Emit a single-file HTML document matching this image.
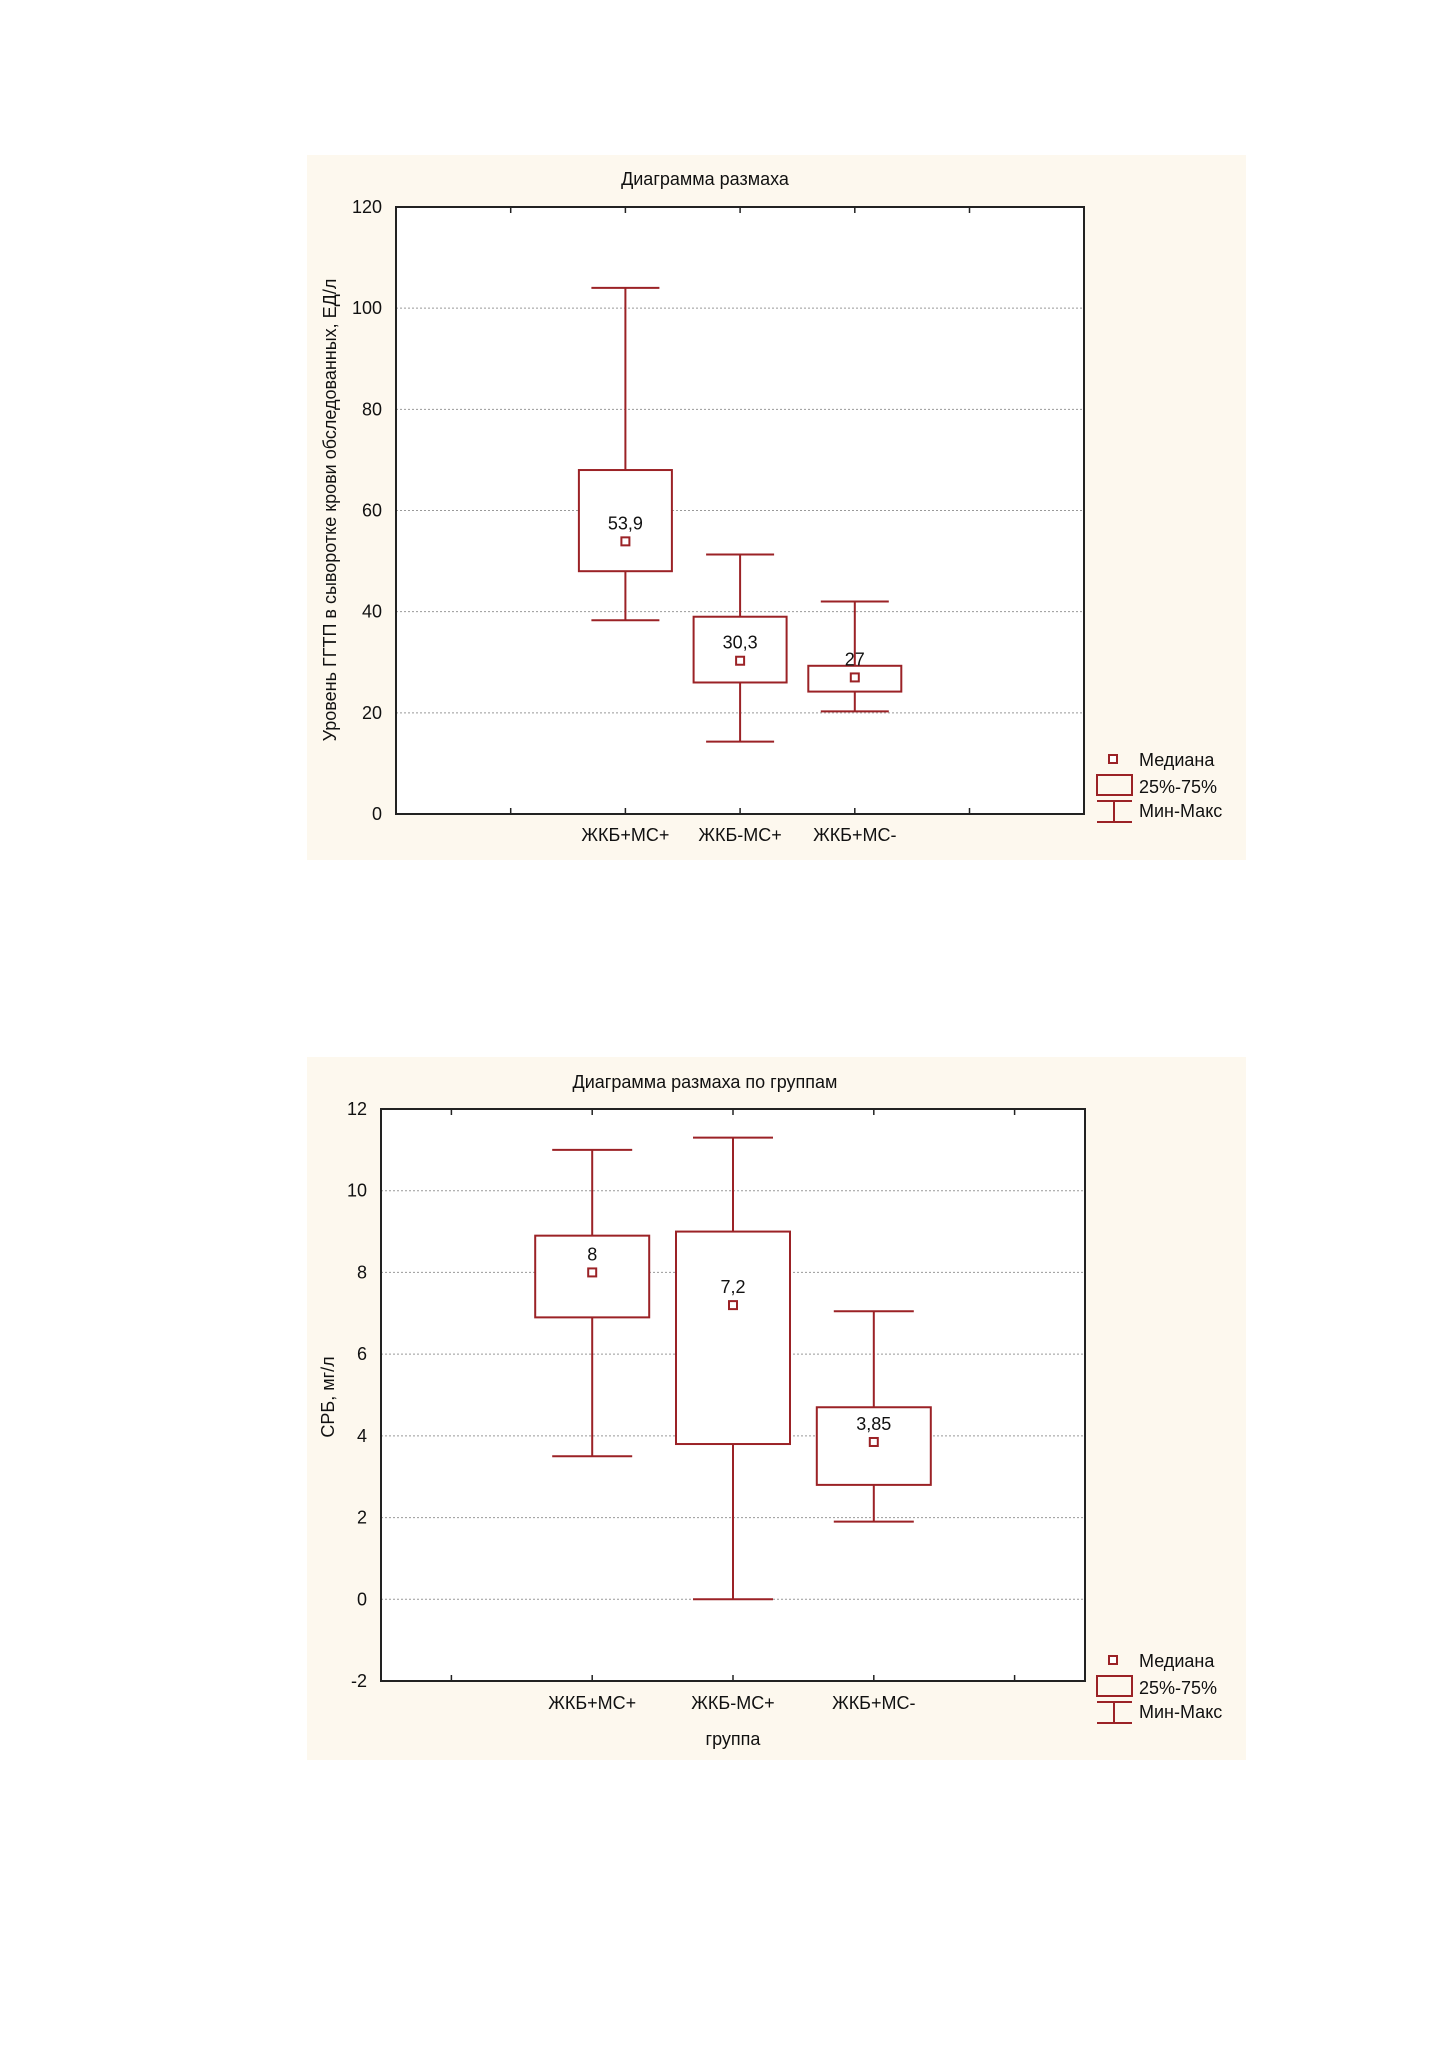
<!DOCTYPE html>
<html><head><meta charset="utf-8"><style>
body{margin:0;background:#fff;width:1448px;height:2050px;overflow:hidden}
svg{position:absolute;left:0;top:0}
text{font-family:"Liberation Sans",sans-serif;fill:#111}
</style></head><body>
<svg id="s" width="1448" height="2050"></svg>
<script>
// Chart 1 data
const cats1 = ["ЖКБ+МС+","ЖКБ-МС+","ЖКБ+МС-"];
const max1 = [104, 51.3, 42];
const q3_1 = [68, 39, 29.3];
const med1 = [53.9, 30.3, 27];
const q1_1 = [48, 26, 24.2];
const min1 = [38.3, 14.3, 20.3];
const medLabels1 = ["53,9","30,3","27"];
const yTicks1 = [0,20,40,60,80,100,120];
// Chart 2 data
const cats2 = ["ЖКБ+МС+","ЖКБ-МС+","ЖКБ+МС-"];
const max2 = [11, 11.3, 7.05];
const q3_2 = [8.9, 9, 4.7];
const med2 = [8, 7.2, 3.85];
const q1_2 = [6.9, 3.8, 2.8];
const min2 = [3.5, 0, 1.9];
const medLabels2 = ["8","7,2","3,85"];
const yTicks2 = [-2,0,2,4,6,8,10,12];

const NS="http://www.w3.org/2000/svg";
const svg=document.getElementById('s');
const RED="#9b2226";
function el(tag,attrs,parent,txt){const e=document.createElementNS(NS,tag);for(const k in attrs)e.setAttribute(k,attrs[k]);if(txt!==undefined)e.textContent=txt;(parent||svg).appendChild(e);return e;}

function chart(cfg){
  const g=el('g',{});
  
  
  const bg=el('rect',{x:cfg.px,y:cfg.py,width:cfg.pw,height:cfg.ph,fill:'#fdf8ee'},g);
  
  
  const L=cfg.L,R=cfg.R,T=cfg.T,B=cfg.B;
  const y=v=>B-(v-cfg.ymin)/(cfg.ymax-cfg.ymin)*(B-T);
  const x=i=>L+(cfg.slot0+i)*cfg.slotW;
  el('rect',{x:L,y:T,width:R-L,height:B-T,fill:'#fff'},g);
  cfg.ticks.forEach(v=>{
    const gl=el('line',{x1:L,x2:R,y1:y(v),y2:y(v),stroke:'#999','stroke-dasharray':'2,2','stroke-width':1},g);
    
    
    const t=el('text',{x:L-14,y:y(v)+6,'text-anchor':'end','font-size':18},g,String(v));
    
    
  });
  cfg.xt.forEach(k=>{
    const xx=L+k*cfg.slotW;
    el('line',{x1:xx,x2:xx,y1:T,y2:T+6,stroke:'#222','stroke-width':1.5},g);
    el('line',{x1:xx,x2:xx,y1:B,y2:B-6,stroke:'#222','stroke-width':1.5},g);
  });
  const fr=el('rect',{x:L,y:T,width:R-L,height:B-T,fill:'none',stroke:'#222','stroke-width':2},g);
  
  
  const tt=el('text',{x:cfg.titleX,y:cfg.titleY,'text-anchor':'middle','font-size':18},g,cfg.title);
  
  
  const yt=el('text',{x:0,y:0,'text-anchor':'middle','font-size':18,transform:`translate(${cfg.ytX},${cfg.ytY}) rotate(-90)`},g,cfg.ytitle);
  
  
  if(cfg.xtitle){
    const xt=el('text',{x:x(1),y:cfg.xtY,'text-anchor':'middle','font-size':18},g,cfg.xtitle);
    
    
  }
  cfg.cats.forEach((c,i)=>{
    const cx=x(i);
    const bg2=el('g',{},g);
    
    
    const st={stroke:RED,'stroke-width':2,fill:'none'};
    el('line',Object.assign({x1:cx,x2:cx,y1:y(cfg.max[i]),y2:y(cfg.q3[i])},st),bg2);
    el('line',Object.assign({x1:cx,x2:cx,y1:y(cfg.q1[i]),y2:y(cfg.min[i])},st),bg2);
    el('line',Object.assign({x1:cx-cfg.cap/2,x2:cx+cfg.cap/2,y1:y(cfg.max[i]),y2:y(cfg.max[i])},st),bg2);
    el('line',Object.assign({x1:cx-cfg.cap/2,x2:cx+cfg.cap/2,y1:y(cfg.min[i]),y2:y(cfg.min[i])},st),bg2);
    el('rect',Object.assign({x:cx-cfg.bw/2,y:y(cfg.q3[i]),width:cfg.bw,height:y(cfg.q1[i])-y(cfg.q3[i]),fill:'#fff'},{stroke:RED,'stroke-width':2}),bg2);
    el('rect',{x:cx-4,y:y(cfg.med[i])-4,width:8,height:8,fill:'#fff',stroke:RED,'stroke-width':2},bg2);
    el('text',{x:cx,y:y(cfg.med[i])-12,'text-anchor':'middle','font-size':18},bg2,cfg.labels[i]);
    const xl=el('text',{x:cx,y:cfg.xlY,'text-anchor':'middle','font-size':18},g,c);
    
    
  });
  const lg=el('g',{transform:`translate(0,${cfg.legDy})`},g);
  
  
  el('rect',{x:1109,y:755,width:8,height:8,fill:'#fff',stroke:RED,'stroke-width':2},lg);
  el('text',{x:1139,y:766,'font-size':18},lg,'Медиана');
  el('rect',{x:1097,y:775,width:35,height:20,fill:'none',stroke:RED,'stroke-width':2},lg);
  el('text',{x:1139,y:793,'font-size':18},lg,'25%-75%');
  el('line',{x1:1097,x2:1132,y1:801,y2:801,stroke:RED,'stroke-width':2},lg);
  el('line',{x1:1097,x2:1132,y1:822,y2:822,stroke:RED,'stroke-width':2},lg);
  el('line',{x1:1114,x2:1114,y1:801,y2:822,stroke:RED,'stroke-width':2},lg);
  el('text',{x:1139,y:817,'font-size':18},lg,'Мин-Макс');
}

chart({name:'chart-ggtp',px:307,py:155,pw:939,ph:705,L:396,R:1084,T:207,B:814,ymin:0,ymax:120,
  slotW:114.7,slot0:2,xt:[1,2,3,4,5],ticks:yTicks1,cats:cats1,max:max1,q3:q3_1,med:med1,q1:q1_1,min:min1,labels:medLabels1,
  bw:93,cap:68,title:'Диаграмма размаха',titleX:705,titleY:185,ytitle:'Уровень ГГТП в сыворотке крови обследованных, ЕД/л',ytX:336,ytY:510,xlY:841,legDy:0});
chart({name:'chart-crp',px:307,py:1057,pw:939,ph:703,L:381,R:1085,T:1109,B:1681,ymin:-2,ymax:12,
  slotW:140.8,slot0:1.5,xt:[0.5,1.5,2.5,3.5,4.5],ticks:yTicks2,cats:cats2,max:max2,q3:q3_2,med:med2,q1:q1_2,min:min2,labels:medLabels2,
  bw:114,cap:80,title:'Диаграмма размаха по группам',titleX:705,titleY:1088,ytitle:'СРБ, мг/л',ytX:334,ytY:1397,xlY:1709,xtitle:'группа',xtY:1745,legDy:901});
</script>
</body></html>
